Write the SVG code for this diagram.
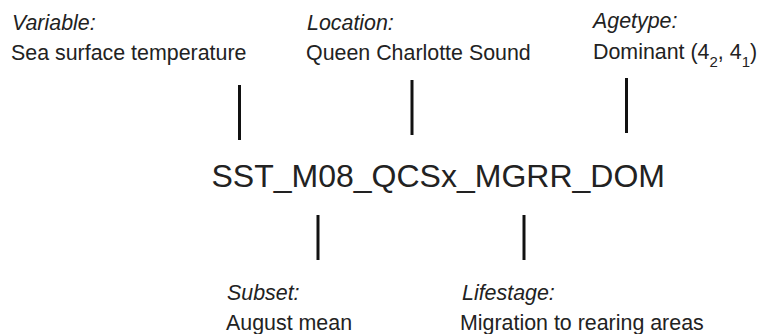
<svg xmlns="http://www.w3.org/2000/svg" width="764" height="334" viewBox="0 0 764 334">
<style>
text{font-family:"Liberation Sans",Arial,sans-serif;fill:#222}
.h{font-size:21.4px;font-style:italic}
.v{font-size:21.4px}
.big{font-size:32px}
.sub{font-size:15px}
.c line{stroke:#111;stroke-width:3}
</style>
<rect width="764" height="334" fill="#fff"/>
<g id="variable">
<text class="h" x="12" y="30">Variable:</text>
<text class="v" x="11" y="60">Sea surface temperature</text>
</g>
<g id="location">
<text class="h" x="307" y="30">Location:</text>
<text class="v" x="306" y="59.5">Queen Charlotte Sound</text>
</g>
<g id="agetype">
<text class="h" x="593" y="27.5">Agetype:</text>
<text class="v" x="593" y="58.5">Dominant (4<tspan class="sub" dy="8">2</tspan><tspan dy="-8">, 4</tspan><tspan class="sub" dy="8">1</tspan><tspan dy="-8">)</tspan></text>
</g>
<g id="code">
<text class="big" x="211.5" y="187.3">SST_M08_QCSx_MGRR_DOM</text>
</g>
<g id="subset">
<text class="h" x="227" y="300">Subset:</text>
<text class="v" x="226" y="330">August mean</text>
</g>
<g id="lifestage">
<text class="h" x="462" y="300">Lifestage:</text>
<text class="v" x="460" y="330">Migration to rearing areas</text>
</g>
<g id="connectors" class="c">
<line x1="239.5" y1="85" x2="239.5" y2="140"/>
<line x1="412" y1="80" x2="412" y2="135"/>
<line x1="626.5" y1="78" x2="626.5" y2="133"/>
<line x1="318" y1="215" x2="318" y2="260"/>
<line x1="524" y1="215" x2="524" y2="260"/>
</g>
</svg>
